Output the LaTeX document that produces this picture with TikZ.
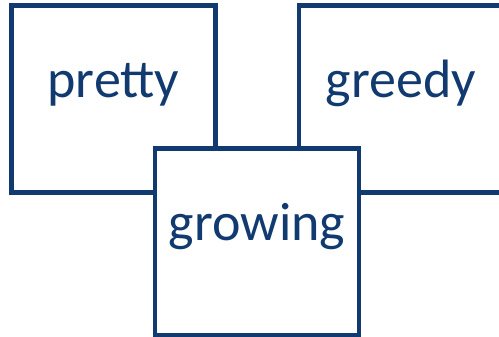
\documentclass[tikz,border=0pt]{standalone}
\usepackage{fontspec}
\setmainfont{Carlito}
\definecolor{dkblue}{RGB}{16,58,112}
\begin{document}
\begin{tikzpicture}[x=1pt,y=1pt,
  box/.style={draw=dkblue, line width=4.5pt, fill=white, minimum width=204pt, minimum height=187pt, inner sep=0pt, outer sep=0pt},
  word/.style={text=dkblue, font=\fontsize{54}{54}\selectfont, anchor=base, inner sep=0pt}]
\useasboundingbox (0,0) rectangle (499,337);
\clip (0,0) rectangle (499,337);
\node[box] (b1) at (113.5,238) {};
\node[word] (t1) at ([yshift=-92pt]b1.north) {pretty};
\node[box] (b2) at (401,238) {};
\node[word] (t2) at ([yshift=-92pt]b2.north) {greedy};
\node[box] (b3) at (257,95) {};
\node[word] (t3) at ([yshift=-92pt]b3.north) {growing};
\end{tikzpicture}
\end{document}
